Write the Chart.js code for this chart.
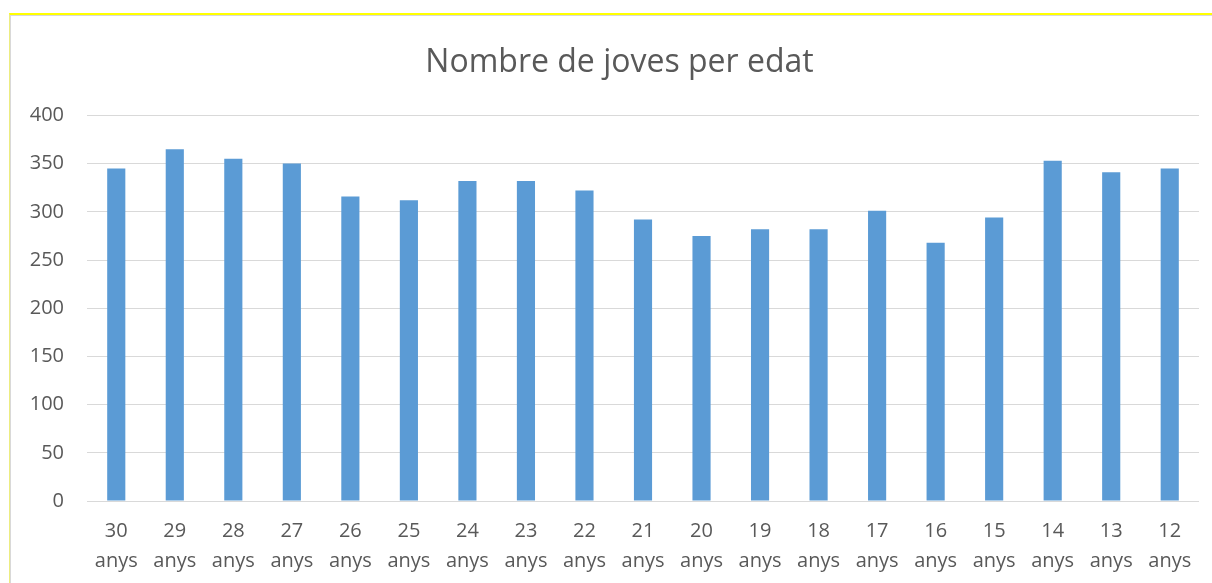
<!DOCTYPE html>
<html>
<head>
<meta charset="utf-8">
<script src="https://cdn.jsdelivr.net/npm/chart.js@4.4.1/dist/chart.umd.min.js"></script>
<style>
  html, body { margin: 0; padding: 0; background: #ffffff; }
  body { width: 1212px; height: 583px; position: relative; overflow: hidden; }
  #frameOuter { position: absolute; left: 9px; top: 13px; right: 0; bottom: 0;
    border-top: 2px solid #FFFF00; border-left: 1px solid #EDED80; }
  #frameInner { position: absolute; left: 0; top: 0; right: 0; bottom: 0;
    border-top: 1px solid #D9D9D9; border-left: 1px solid #D9D9D9; }
  #wrap { position: absolute; left: 0; top: 0; width: 1212px; height: 583px; }
</style>
</head>
<body>
<div id="frameOuter"><div id="frameInner"></div></div>
<div id="wrap"><canvas id="c" width="1212" height="583"></canvas></div>
<script>
const title = "Nombre de joves per edat";
const categories = [
  ["30", "anys"], ["29", "anys"], ["28", "anys"], ["27", "anys"], ["26", "anys"],
  ["25", "anys"], ["24", "anys"], ["23", "anys"], ["22", "anys"], ["21", "anys"],
  ["20", "anys"], ["19", "anys"], ["18", "anys"], ["17", "anys"], ["16", "anys"],
  ["15", "anys"], ["14", "anys"], ["13", "anys"], ["12", "anys"]
];
const values = [345, 365, 355, 350, 316, 312, 332, 332, 322, 292, 275, 282, 282, 301, 268, 294, 353, 341, 345];
const yMin = 0, yMax = 400, yStep = 50;

const textColor = "#595959";
const gridColor = "#D9D9D9";
const barColor = "#5B9BD5";
const fontFamily = "'Open Sans', 'Liberation Sans', sans-serif";

// shift the title box so it is centred like the reference (over the plot, not the canvas)
const titleShift = {
  id: "titleShift",
  afterLayout(chart) {
    if (chart.titleBlock) { chart.titleBlock.left += 40; }
  }
};

new Chart(document.getElementById("c"), {
  type: "bar",
  data: {
    labels: categories,
    datasets: [{ data: values, backgroundColor: barColor, borderWidth: 0,
      categoryPercentage: 1.0, barPercentage: 0.31 }]
  },
  plugins: [titleShift],
  options: {
    responsive: false,
    animation: false,
    layout: { padding: { left: 0, right: 13, top: 0, bottom: 0 } },
    plugins: {
      legend: { display: false },
      tooltip: { enabled: false },
      title: {
        display: true, text: title, color: textColor,
        font: { family: fontFamily, size: 32, weight: "normal", lineHeight: 1.2 },
        padding: { top: 44, bottom: 33 }
      }
    },
    scales: {
      x: {
        grid: { display: false, drawTicks: false },
        border: { display: false },
        ticks: { color: textColor, padding: 15, maxRotation: 0, autoSkip: false,
          font: { family: fontFamily, size: 20, lineHeight: 1.5 } },
        afterFit: (s) => { s.height = 82; }
      },
      y: {
        min: yMin, max: yMax,
        grid: { color: gridColor, lineWidth: 1, drawTicks: false },
        border: { display: false },
        ticks: { stepSize: yStep, color: textColor, padding: 23,
          font: { family: fontFamily, size: 20 } },
        afterFit: (s) => { s.width = 87; }
      }
    }
  }
});
</script>
</body>
</html>
